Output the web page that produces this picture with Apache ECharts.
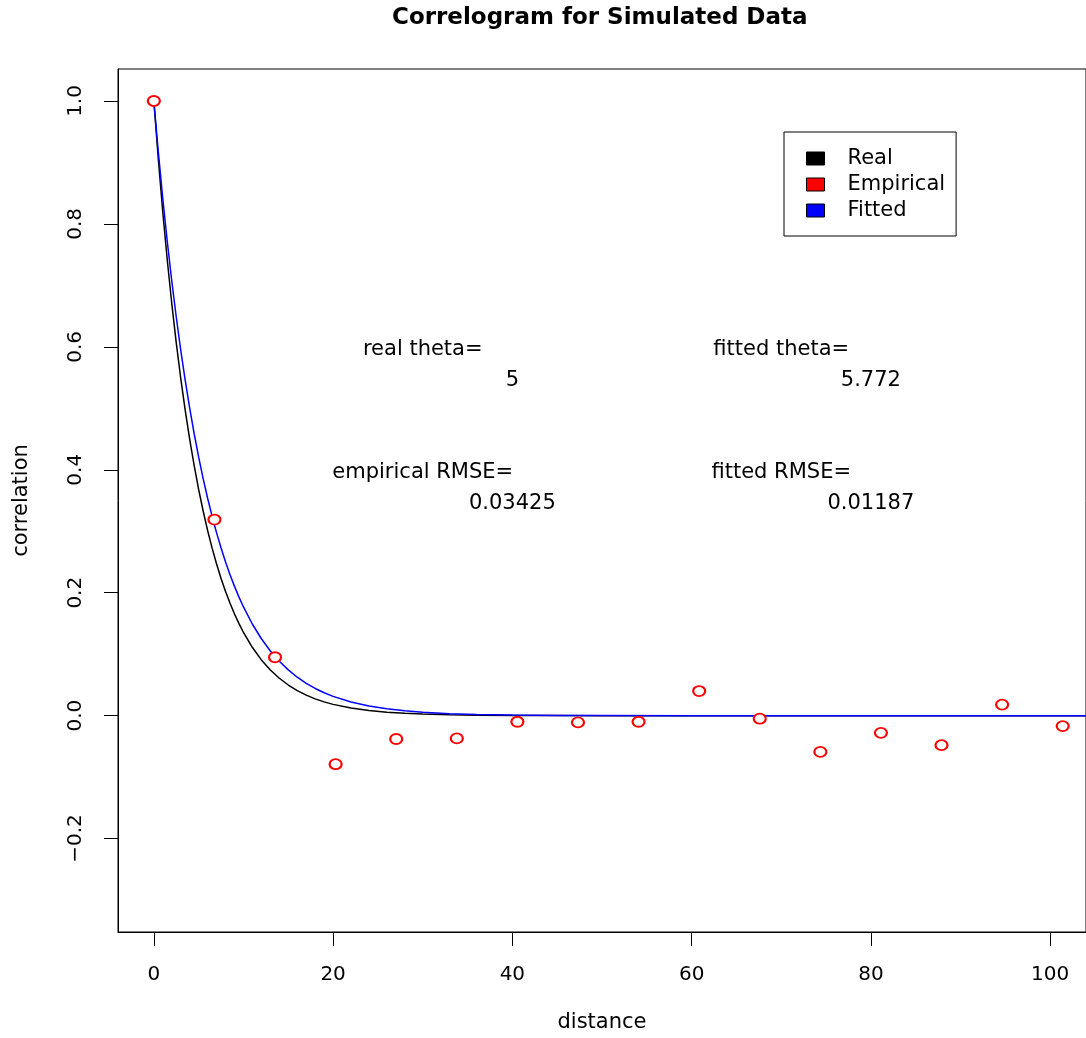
<!DOCTYPE html>
<html>
<head>
<meta charset="utf-8">
<title>Correlogram for Simulated Data</title>
<script src="https://cdn.jsdelivr.net/npm/echarts@6/dist/echarts.min.js"></script>
<style>
  html, body { margin: 0; padding: 0; background: #fff; }
  #chart { width: 1086px; height: 1038px; }
</style>
</head>
<body>
<div id="chart"></div>
<script>
// 曲线取样点 (distance)
var curveDist = [0, 0.5, 1, 1.5, 2, 2.5, 3, 3.5, 4, 4.5, 5, 5.5, 6, 6.5, 7, 7.5, 8, 8.5, 9, 9.5, 10, 11, 12, 13, 14, 15, 16, 17, 18, 19, 20, 22, 24, 26, 28, 30, 33, 36, 40, 45, 50, 60, 104];
// Real, theta = 5
var realCorr = [1, 0.9048, 0.8187, 0.7408, 0.6703, 0.6065, 0.5488, 0.4966, 0.4493, 0.4066, 0.3679, 0.3329, 0.3012, 0.2725, 0.2466, 0.2231, 0.2019, 0.1827, 0.1653, 0.1496, 0.1353, 0.1108, 0.0907, 0.0743, 0.0608, 0.0498, 0.0408, 0.0334, 0.0273, 0.0224, 0.0183, 0.0123, 0.0082, 0.0055, 0.0037, 0.0025, 0.0014, 0.0007, 0.0003, 0.0001, 0, 0, 0];
// Fitted, theta = 5.772
var fittedCorr = [1, 0.9170, 0.8409, 0.7711, 0.7071, 0.6485, 0.5947, 0.5453, 0.5001, 0.4586, 0.4205, 0.3856, 0.3536, 0.3243, 0.2973, 0.2727, 0.2501, 0.2293, 0.2103, 0.1928, 0.1768, 0.1487, 0.1251, 0.1052, 0.0884, 0.0744, 0.0625, 0.0526, 0.0442, 0.0372, 0.0313, 0.0221, 0.0157, 0.0111, 0.0078, 0.0055, 0.0032, 0.0020, 0.0010, 0.0004, 0.0002, 0, 0];

// 经验相关点
var empDist = [0, 6.76, 13.52, 20.28, 27.04, 33.8, 40.56, 47.32, 54.08, 60.84, 67.6, 74.36, 81.12, 87.88, 94.64, 101.4];
var empCorr = [1, 0.319, 0.095, -0.079, -0.038, -0.037, -0.010, -0.011, -0.010, 0.040, -0.005, -0.059, -0.028, -0.048, 0.018, -0.017];

// 刻度
var xTicks = [0, 20, 40, 60, 80, 100];
var yTicks = [-0.2, 0, 0.2, 0.4, 0.6, 0.8, 1.0];

// 文字注释
var noteX = [30, 40, 30, 40, 70, 80, 70, 80];
var noteY = [0.6, 0.55, 0.4, 0.35, 0.6, 0.55, 0.4, 0.35];
var noteText = ['real theta=', '5', 'empirical RMSE=', '0.03425', 'fitted theta=', '5.772', 'fitted RMSE=', '0.01187'];

var font = 'DejaVu Sans';

var pairs = function(xs, ys){
  return xs.map(function(x, i){ return [x, ys[i]]; });
};

var chart = echarts.init(document.getElementById('chart'));

var option = {
  backgroundColor: '#fff',
  animation: false,
  textStyle: { fontFamily: font, color: '#000' },
  title: {
    text: 'Correlogram for Simulated Data',
    left: 387,
    top: 2,
    textStyle: { fontFamily: font, fontSize: 23, fontWeight: 'bold', color: '#000' }
  },
  legend: {
    left: 784,
    top: 132,
    orient: 'vertical',
    padding: [16, 11, 15, 22],
    itemGap: 5,
    itemWidth: 18,
    itemHeight: 13,
    borderColor: '#000',
    borderWidth: 1,
    borderRadius: 0,
    textStyle: { fontFamily: font, fontSize: 21, color: '#000', lineHeight: 21, padding: [0, 0, 0, 18] },
    data: [
      { name: 'Real', icon: 'rect', itemStyle: { color: '#000', borderColor: '#000', borderWidth: 1, opacity: 1 } },
      { name: 'Empirical', icon: 'rect', itemStyle: { color: '#ff0000', borderColor: '#000', borderWidth: 1, opacity: 1 } },
      { name: 'Fitted', icon: 'rect', itemStyle: { color: '#0000ff', borderColor: '#000', borderWidth: 1, opacity: 1 } }
    ],
    selectedMode: false
  },
  grid: {
    left: 118,
    top: 69,
    width: 973,
    height: 865,
    show: true,
    borderColor: '#000',
    borderWidth: 1,
    containLabel: false
  },
  xAxis: {
    type: 'value',
    min: -4,
    max: 104,
    name: 'distance',
    nameLocation: 'middle',
    nameGap: 80,
    nameTextStyle: { fontFamily: font, fontSize: 21, color: '#000' },
    axisLine: { show: true, onZero: false, lineStyle: { color: '#000', width: 1 } },
    axisTick: { show: true, inside: false, customValues: xTicks, length: 14, lineStyle: { color: '#000' } },
    axisLabel: { customValues: xTicks, margin: 33, fontFamily: font, fontSize: 20, color: '#000' },
    splitLine: { show: false }
  },
  yAxis: {
    type: 'value',
    min: -0.352,
    max: 1.052,
    name: 'correlation',
    nameLocation: 'middle',
    nameGap: 86,
    nameRotate: 90,
    nameTextStyle: { fontFamily: font, fontSize: 21, color: '#000' },
    axisLine: { show: true, onZero: false, lineStyle: { color: '#000', width: 1 } },
    axisTick: { show: true, inside: false, customValues: yTicks, length: 14, lineStyle: { color: '#000' } },
    axisLabel: {
      customValues: yTicks,
      rotate: 90,
      margin: 32,
      fontFamily: font,
      fontSize: 20,
      color: '#000',
      formatter: function(v){ return v.toFixed(1).replace('-', '\u2212'); }
    },
    splitLine: { show: false }
  },
  series: [
    {
      name: 'Real',
      type: 'line',
      data: pairs(curveDist, realCorr),
      showSymbol: false,
      symbol: 'none',
      lineStyle: { color: '#000', width: 1.5 },
      itemStyle: { color: '#000' },
      clip: true,
      z: 2
    },
    {
      name: 'Fitted',
      type: 'line',
      data: pairs(curveDist, fittedCorr),
      showSymbol: false,
      symbol: 'none',
      lineStyle: { color: '#0000ff', width: 1.5 },
      itemStyle: { color: '#0000ff' },
      clip: true,
      z: 3
    },
    {
      name: 'Empirical',
      type: 'scatter',
      data: pairs(empDist, empCorr),
      symbol: 'emptyCircle',
      symbolSize: [12, 10],
      itemStyle: { color: '#ff0000', borderColor: '#ff0000', borderWidth: 1, opacity: 1 },
      z: 4
    },
    {
      name: 'notes',
      type: 'scatter',
      silent: true,
      symbolSize: 0,
      itemStyle: { opacity: 1 },
      data: pairs(noteX, noteY),
      label: {
        show: true,
        position: 'inside',
        offset: [0, 3],
        fontFamily: font,
        fontSize: 21,
        color: '#000',
        opacity: 1,
        textBorderWidth: 0,
        formatter: function(p){ return noteText[p.dataIndex]; }
      },
      z: 5
    }
  ]
};

chart.setOption(option);
</script>
</body>
</html>
